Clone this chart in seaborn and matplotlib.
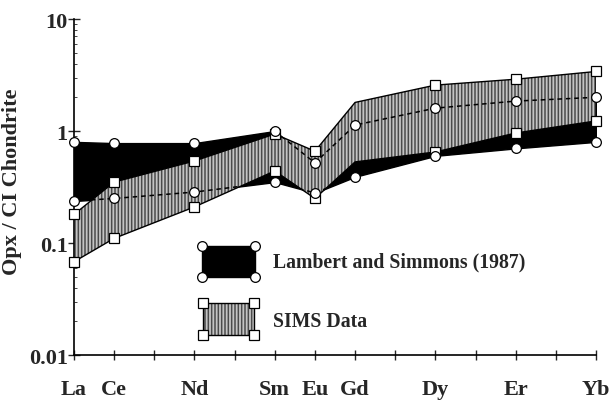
import numpy as np
import pandas as pd
import matplotlib
matplotlib.use('Agg')
import matplotlib.pyplot as plt
import seaborn as sns
from matplotlib.patches import Rectangle, Polygon

# --- Data ---
elements = ['La', 'Ce', 'Nd', 'Sm', 'Eu', 'Gd', 'Dy', 'Er', 'Yb']
atomic_no = [57, 58, 60, 62, 63, 64, 66, 68, 70]
ls_upper = [0.80, 0.78, 0.78, 1.00, 0.52, 1.13, 1.60, 1.85, 2.00]
ls_lower = [0.237, 0.25, 0.285, 0.35, 0.28, 0.39, 0.60, 0.70, 0.80]
sims_upper = [0.18, 0.35, 0.54, 0.94, 0.66, 1.80, 2.57, 2.90, 3.40]
sims_lower = [0.068, 0.11, 0.21, 0.44, 0.25, 0.53, 0.65, 0.96, 1.23]
sims_marked = [0, 1, 2, 3, 4, 6, 7, 8]   # no SIMS squares drawn at Gd

df = pd.DataFrame({'Z': atomic_no, 'ls_up': ls_upper, 'ls_lo': ls_lower,
                   'sims_up': sims_upper, 'sims_lo': sims_lower})

sns.set_style('ticks')
plt.rcParams['font.family'] = ['Liberation Serif', 'DejaVu Serif']
plt.rcParams['font.weight'] = 'bold'
plt.rcParams['hatch.linewidth'] = 1.1

SIMS_FACE = '#c4c4c4'
SIMS_HATCH = '#4a4a4a'

fig = plt.figure(figsize=(6.14, 4.02), dpi=100)
ax = fig.add_axes([0.1205, 0.1144, 0.8502, 0.8358])

# Lambert and Simmons band (black)
ax.fill_between(df['Z'], df['ls_lo'], df['ls_up'], facecolor='black',
                edgecolor='black', linewidth=1, zorder=2)

# SIMS band (grey vertical streaks)
ax.fill_between(df['Z'], df['sims_lo'], df['sims_up'], facecolor=SIMS_FACE,
                edgecolor=SIMS_HATCH, hatch='|||||', linewidth=0, zorder=3)
ax.fill_between(df['Z'], df['sims_lo'], df['sims_up'], facecolor='none',
                edgecolor='black', linewidth=1, zorder=4)

# Lambert boundaries hidden under the SIMS band show through as dashed lines
sims_poly = Polygon(np.column_stack([np.r_[df['Z'], df['Z'][::-1]],
                                     np.r_[df['sims_up'], df['sims_lo'][::-1]]]),
                    closed=True, transform=ax.transData, facecolor='none', edgecolor='none')
ax.add_patch(sims_poly)
for col in ['ls_up', 'ls_lo']:
    sns.lineplot(data=df, x='Z', y=col, ax=ax, color='black', linestyle=(0, (3, 2.5)),
                 linewidth=1.1, zorder=5)
    ax.lines[-1].set_clip_path(sims_poly)

# markers
for col in ['sims_up', 'sims_lo']:
    ax.plot(df['Z'], df[col], linestyle='none', marker='s', markersize=6.5,
            markerfacecolor='white', markeredgecolor='black', markeredgewidth=0.9,
            markevery=sims_marked, zorder=6, clip_on=False)
for col in ['ls_up', 'ls_lo']:
    ax.plot(df['Z'], df[col], linestyle='none', marker='o', markersize=7,
            markerfacecolor='white', markeredgecolor='black', markeredgewidth=0.9,
            zorder=7, clip_on=False)

ax.set_yscale('log')
ax.set_ylim(0.01, 10)
ax.set_xlim(57, 70)
ax.set_yticks([0.01, 0.1, 1, 10])
ax.set_yticklabels(['0.01', '0.1', '1', '10'])
ax.set_xticks(atomic_no)
ax.set_xticklabels(elements)
ax.set_xticks(range(57, 71), minor=True)
ax.tick_params(axis='x', which='both', direction='inout', length=7, width=1,
               pad=14, labelsize=16)
ax.tick_params(axis='y', which='major', direction='inout', length=9, width=1,
               labelsize=16, pad=0)
ax.tick_params(axis='y', which='minor', direction='in', length=2, width=0.6)
for lab in ax.get_xticklabels() + ax.get_yticklabels():
    lab.set_fontweight('bold')

ax.set_xlabel('')
ax.set_ylabel('Opx / CI Chondrite', fontsize=16, fontweight='bold')
ax.yaxis.set_label_coords(-0.1, 0.518)
sns.despine(ax=ax)
for sp in ['left', 'bottom']:
    ax.spines[sp].set_linewidth(1.2)
    ax.spines[sp].set_color('black')

# --- hand-made legend ---
tr = ax.transAxes
ax.add_patch(Rectangle((0.2452, 0.2321), 0.1015, 0.0923, transform=tr,
                       facecolor='black', edgecolor='black', zorder=8))
ax.plot([0.2452, 0.3467, 0.2452, 0.3467], [0.3244, 0.3244, 0.2321, 0.2321],
        transform=tr, linestyle='none', marker='o', markersize=7,
        markerfacecolor='white', markeredgecolor='black', markeredgewidth=0.9,
        zorder=9, clip_on=False)
ax.add_patch(Rectangle((0.2471, 0.0595), 0.0977, 0.0953, transform=tr,
                       facecolor=SIMS_FACE, edgecolor=SIMS_HATCH, hatch='|||||',
                       linewidth=0, zorder=8))
ax.add_patch(Rectangle((0.2471, 0.0595), 0.0977, 0.0953, transform=tr,
                       facecolor='none', edgecolor='black', linewidth=1, zorder=8))
ax.plot([0.2471, 0.3448, 0.2471, 0.3448], [0.1548, 0.1548, 0.0595, 0.0595],
        transform=tr, linestyle='none', marker='s', markersize=6.5,
        markerfacecolor='white', markeredgecolor='black', markeredgewidth=0.9,
        zorder=9, clip_on=False)
ax.text(0.381, 0.2798, 'Lambert and Simmons (1987)', transform=tr, fontsize=14.2,
        fontweight='bold', va='center', ha='left')
ax.text(0.381, 0.1012, 'SIMS Data', transform=tr, fontsize=14.2,
        fontweight='bold', va='center', ha='left')

fig.savefig('out.png', dpi=100)
